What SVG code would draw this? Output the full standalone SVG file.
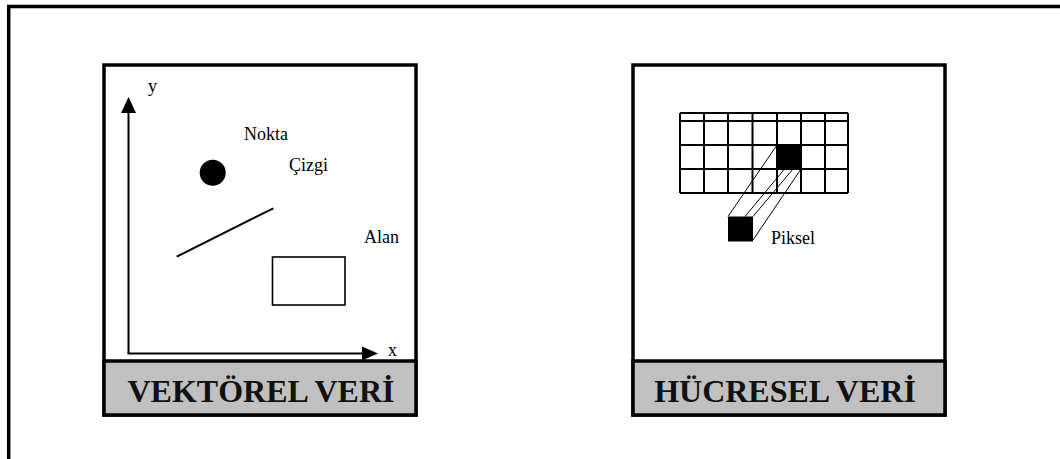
<svg xmlns="http://www.w3.org/2000/svg" width="1060" height="459" viewBox="0 0 1060 459">
<style>
.frame{fill:none;stroke:#000;stroke-width:3.5}
.band{fill:#c0c0c0;stroke:#000;stroke-width:3.5}
.title{font-family:"Liberation Serif","Times New Roman",serif;font-weight:bold;font-size:32px;fill:#111;text-anchor:middle}
.lbl{font-family:"Liberation Serif","Times New Roman",serif;font-size:18px;fill:#000}
.ax{stroke:#000;stroke-width:2;fill:none}
.grid{stroke:#000;stroke-width:2;fill:none}
.thin{stroke:#000;stroke-width:1;fill:none}
</style>
<rect width="1060" height="459" fill="#fff"/>
<path class="frame" d="M8.7,459 V6.5 H1060"/>
<g id="vektorel">
  <rect x="104" y="65" width="312" height="350" fill="#fff" stroke="#000" stroke-width="3.5"/>
  <rect class="band" x="104" y="361" width="312" height="54"/>
  <text class="title" x="261" y="402">VEKTÖREL VERİ</text>
</g>
<g id="y-axis">
  <line class="ax" x1="128.5" y1="353.5" x2="128.5" y2="110"/>
  <polygon points="128.5,97 121,113 136,113" fill="#000"/>
  <text class="lbl" x="148" y="92">y</text>
</g>
<g id="x-axis">
  <line class="ax" x1="127.5" y1="353.5" x2="364" y2="353.5"/>
  <polygon points="378,353.5 362,346.5 362,360.5" fill="#000"/>
  <text class="lbl" x="388" y="356">x</text>
</g>
<g id="nokta">
  <circle cx="212.7" cy="172.7" r="13" fill="#000"/>
  <text class="lbl" x="244" y="140">Nokta</text>
</g>
<g id="cizgi">
  <line class="ax" x1="176.7" y1="256.7" x2="273.3" y2="208.3"/>
  <text class="lbl" x="289" y="171">Çizgi</text>
</g>
<g id="alan">
  <rect x="272.5" y="257" width="72.5" height="48" fill="none" stroke="#000" stroke-width="1.6"/>
  <text class="lbl" x="364" y="243">Alan</text>
</g>
<g id="hucresel">
  <rect x="633" y="65" width="312" height="350" fill="#fff" stroke="#000" stroke-width="3.5"/>
  <rect class="band" x="633" y="361" width="312" height="54"/>
  <text class="title" x="785" y="402">HÜCRESEL VERİ</text>
</g>
<g id="grid">
  <rect x="777" y="145" width="24" height="24" fill="#000"/>
  <path class="grid" d="M680,113 H848 M680,121 H848 M680,145 H848 M680,169 H848 M680,193 H848 M680,113 V193 M704,113 V193 M728,113 V193 M752.5,113 V193 M777,113 V193 M801,113 V193 M825,113 V193 M848,113 V193"/>
</g>
<g id="connectors">
  <line class="thin" x1="777" y1="145" x2="728" y2="216.5"/>
  <line class="thin" x1="784.5" y1="169" x2="745" y2="216.5"/>
  <line class="thin" x1="793" y1="169" x2="753" y2="216.5"/>
  <line class="thin" x1="801" y1="169" x2="753" y2="240"/>
</g>
<g id="piksel">
  <rect x="728" y="216.5" width="25" height="25" fill="#000"/>
  <text class="lbl" x="771" y="244">Piksel</text>
</g>
</svg>
